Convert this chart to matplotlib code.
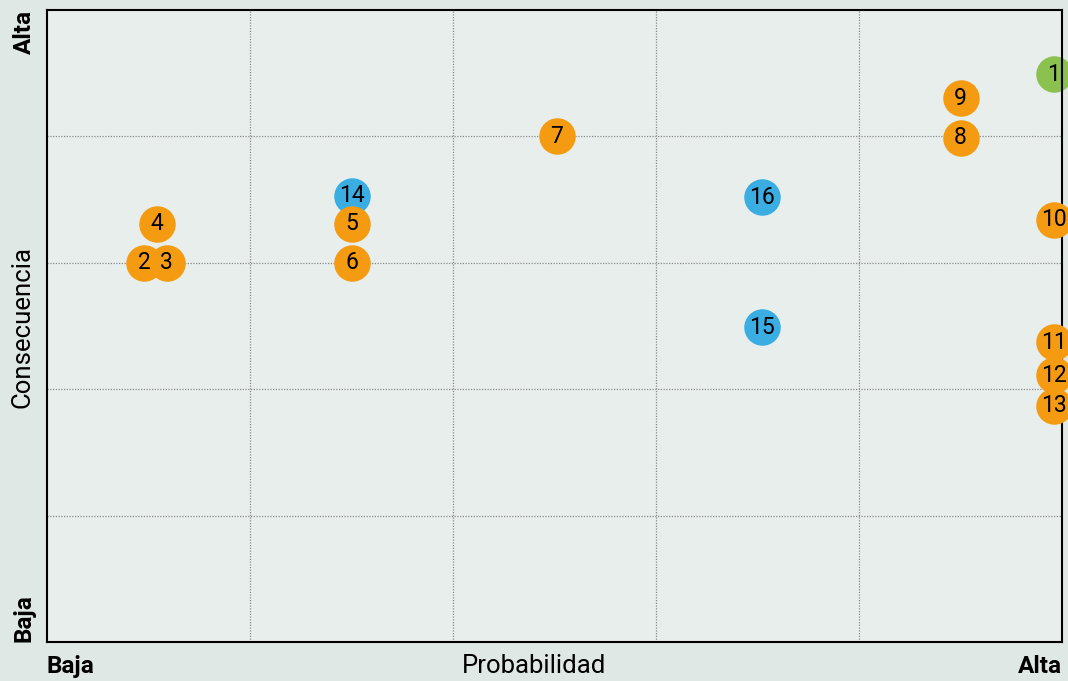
import matplotlib.pyplot as plt

labels = ['1', '2', '3', '4', '5', '6', '7', '8', '9', '10', '11', '12', '13', '14', '15', '16']
prob = [4.96, 0.48, 0.59, 0.54, 1.50, 1.50, 2.51, 4.50, 4.50, 4.96, 4.96, 4.96, 4.96, 1.50, 3.52, 3.52]
cons = [4.49, 3.00, 3.00, 3.31, 3.31, 3.00, 4.00, 3.99, 4.30, 3.34, 2.37, 2.11, 1.87, 3.53, 2.49, 3.52]
group = ['g', 'o', 'o', 'o', 'o', 'o', 'o', 'o', 'o', 'o', 'o', 'o', 'o', 'b', 'b', 'b']

colors = {'o': '#f49b12', 'g': '#8bc14e', 'b': '#3aade2'}
font = ['Roboto', 'DejaVu Sans']

fig = plt.figure(figsize=(10.68, 6.81), dpi=100, facecolor='#dfe8e4')
ax = fig.add_axes([0.044, 0.0573, 0.9504, 0.928])
ax.set_facecolor('#e7eeeb')
ax.set_xlim(0, 5)
ax.set_ylim(0, 5)
ax.set_xticks([1, 2, 3, 4])
ax.set_yticks([1, 2, 3, 4])
ax.tick_params(length=0, labelbottom=False, labelleft=False)
ax.grid(True, linestyle=(0, (1, 1.2)), color='#8a8a8a', linewidth=0.9)
for s in ax.spines.values():
    s.set_linewidth(1.5)
    s.set_zorder(10)

# blue ones sit underneath
order = [i for i in range(len(labels)) if group[i] == 'b'] + \
        [i for i in range(len(labels)) if group[i] != 'b']
for k, i in enumerate(order):
    ax.scatter(prob[i], cons[i], s=690, color=colors[group[i]], zorder=3 + 2 * k,
               clip_on=False, linewidths=0)
    ax.text(prob[i], cons[i], labels[i], ha='center', va='center', fontsize=16.5,
            family=font, zorder=4 + 2 * k, clip_on=False)

fig.text(0.5, 0.004, 'Probabilidad', ha='center', va='bottom', fontsize=18.5, family=font)
fig.text(0.044, 0.004, 'Baja', ha='left', va='bottom', fontsize=17.5, fontweight='bold', family=font)
fig.text(0.994, 0.004, 'Alta', ha='right', va='bottom', fontsize=17.5, fontweight='bold', family=font)
fig.text(0.010, 0.52, 'Consecuencia', rotation=90, ha='left', va='center', fontsize=18.5,
         family=font)
fig.text(0.012, 0.985, 'Alta', rotation=90, ha='left', va='top', fontsize=17.5, fontweight='bold', family=font)
fig.text(0.012, 0.0573, 'Baja', rotation=90, ha='left', va='bottom', fontsize=17.5, fontweight='bold', family=font)

fig.savefig('out.png', dpi=100, facecolor=fig.get_facecolor())
